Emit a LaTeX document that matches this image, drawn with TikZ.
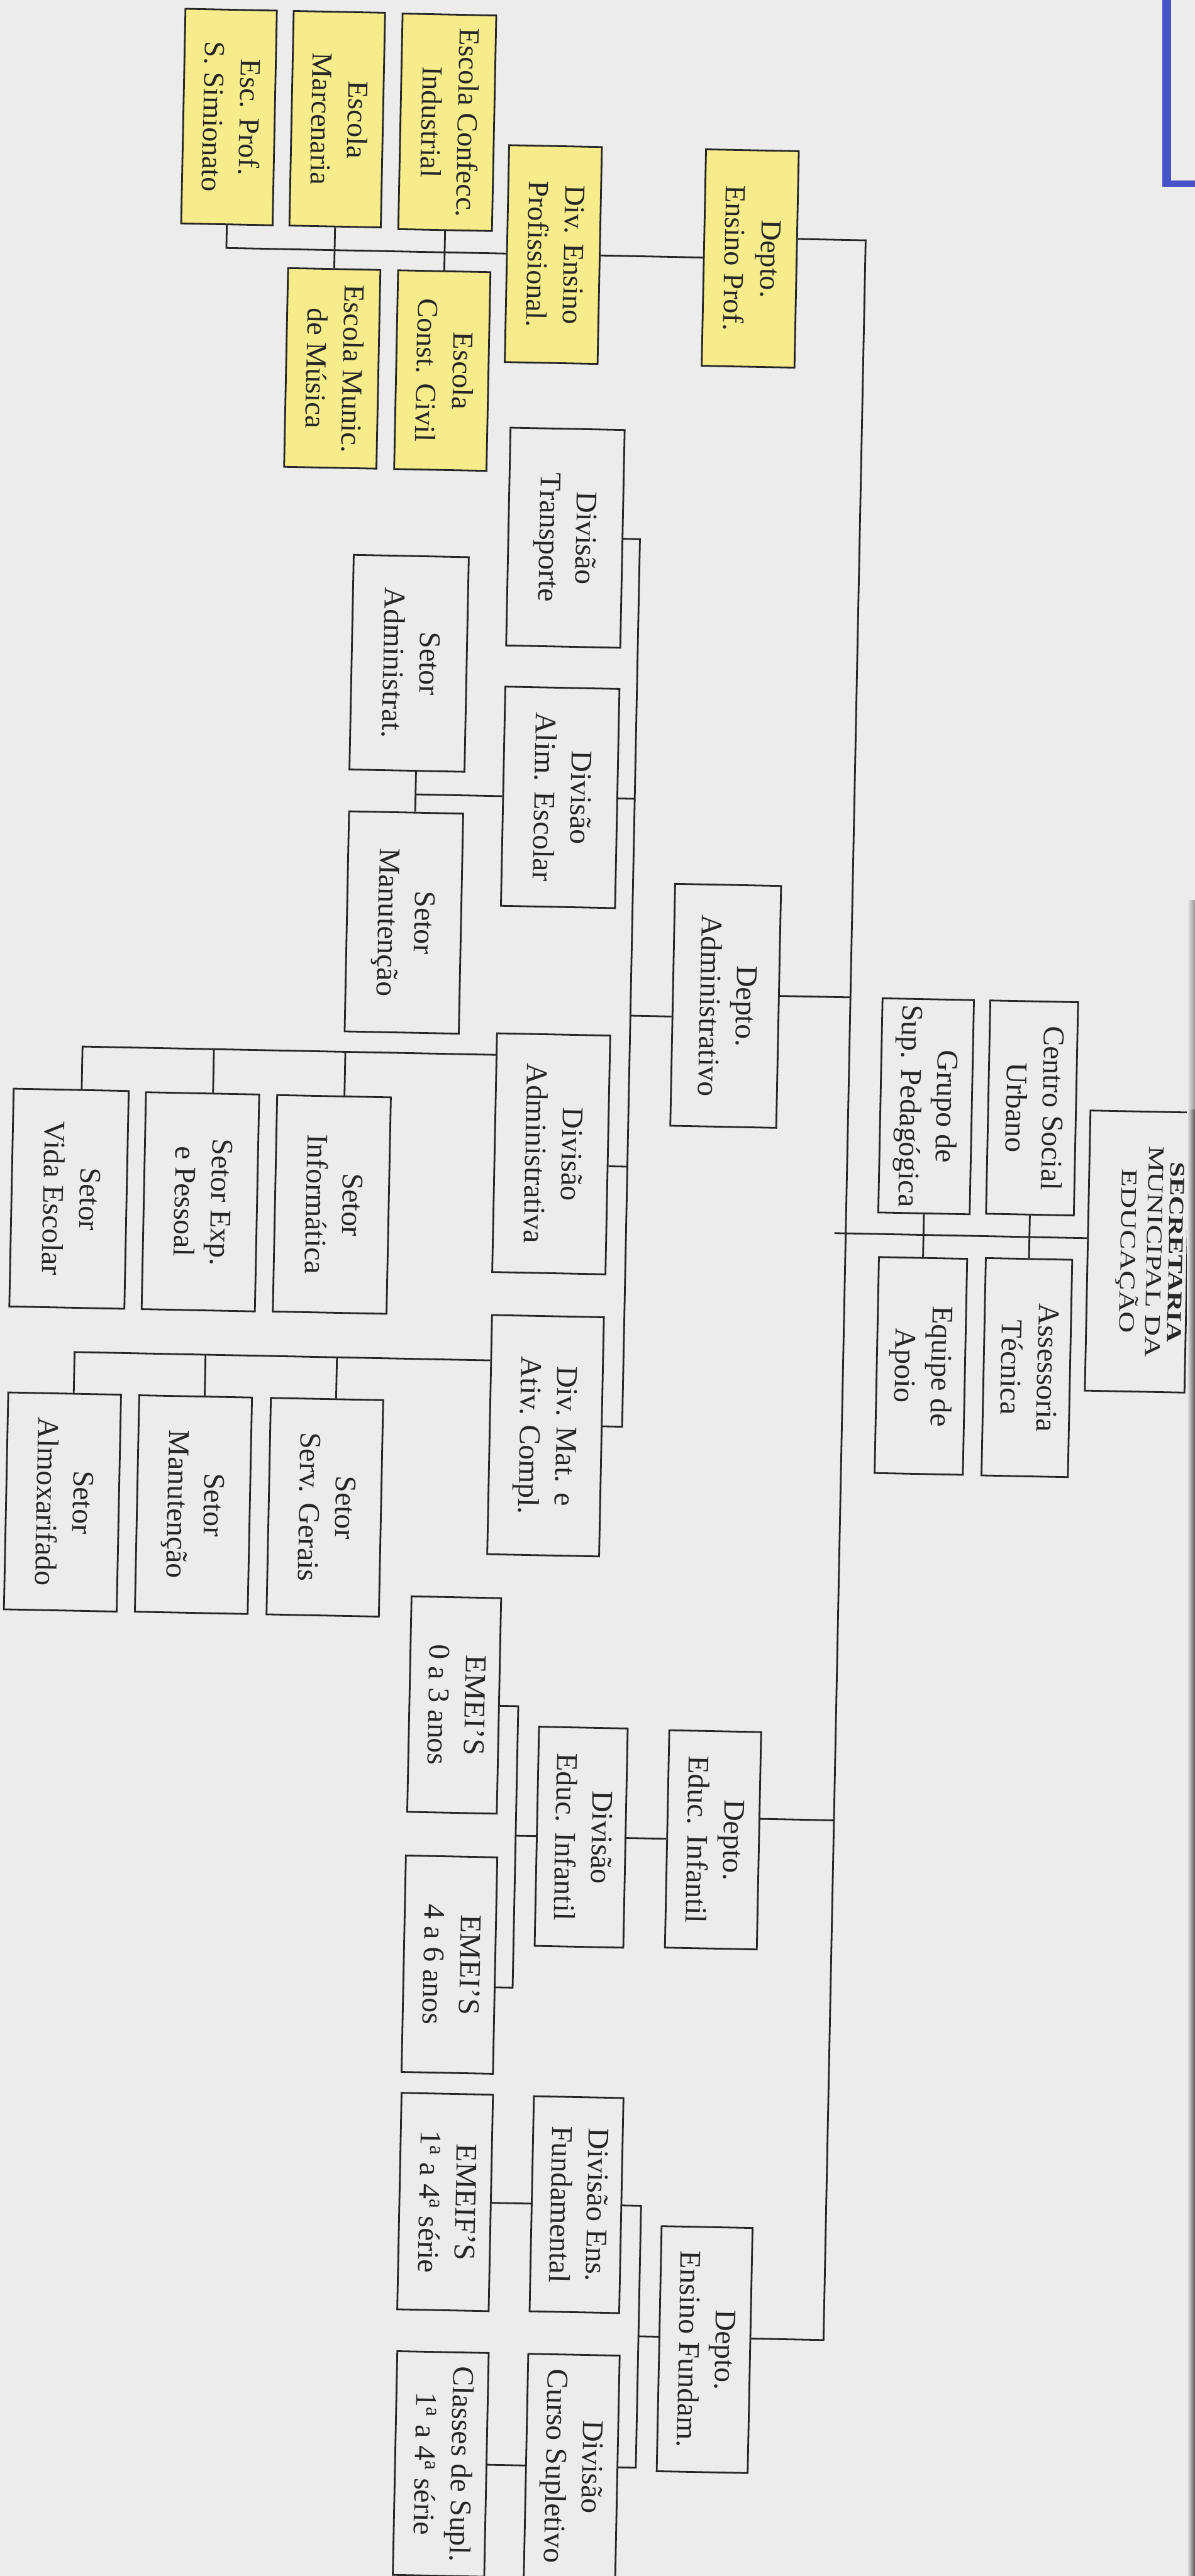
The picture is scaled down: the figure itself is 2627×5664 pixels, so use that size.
\documentclass[tikz,border=0pt]{standalone}
\usepackage{fontspec}
\setmainfont{Liberation Serif}
\usepackage{graphicx}
\definecolor{papel}{RGB}{236,236,236}
\definecolor{tinta}{RGB}{38,38,38}
\definecolor{marca}{RGB}{247,236,140}
\definecolor{caneta}{RGB}{72,82,200}
\newcommand{\vtexto}[1]{\rotatebox{-90}{\begin{tabular}{@{}c@{}}#1\end{tabular}}}
\begin{document}
\begin{tikzpicture}[x=0.1mm,y=-0.1mm,
      caixa/.style={draw=tinta,line width=1.1pt,fill=papel,text=tinta,inner sep=0pt,
        minimum width=20mm,minimum height=47.6mm,font=\fontsize{6.6mm}{8mm}\selectfont},
      amarela/.style={caixa,fill=marca,font=\fontsize{6.4mm}{8mm}\selectfont},
      liga/.style={draw=tinta,line width=1.1pt}]
    \useasboundingbox (0,0) rectangle (2627,5664);
    \fill[papel] (0,0) rectangle (2627,5664);
    \clip (0,0) rectangle (2627,5664);
    % Folha digitalizada levemente inclinada
    \begin{scope}[rotate around={-1.15:(1313,2832)},transform shape]
      % Ensino profissional (marcado em amarelo)
      \node[amarela,minimum width=20.1mm,minimum height=47.2mm] (simionato) at (452,274) {\vtexto{Esc. Prof.\\S. Simionato}};
      \node[amarela,minimum width=20.1mm,minimum height=47.2mm] (marcenaria) at (690,274) {\vtexto{Escola\\Marcenaria}};
      \node[amarela,minimum width=20.6mm,minimum height=47.4mm] (confecc) at (932,276) {\vtexto{Escola Confecc.\\Industrial}};
      \node[amarela,minimum width=20.4mm,minimum height=47.7mm] (divprof) at (1171,562) {\vtexto{Div. Ensino\\Profissional.}};
      \node[amarela,minimum width=20.4mm,minimum height=47.6mm] (deptoprof) at (1604,562) {\vtexto{Depto.\\Ensino Prof.}};
      \node[amarela,minimum width=20.3mm,minimum height=43.7mm] (musica) at (690,822) {\vtexto{Escola Munic.\\de Música}};
      \node[amarela,minimum width=20.3mm,minimum height=43.7mm] (civil) at (932,822) {\vtexto{Escola\\Const. Civil}};
      \coordinate (jSim) at (452,562);
      \draw[liga] (divprof.east) -- (deptoprof.west);
      \draw[liga] (divprof.west) -- (jSim) -- (simionato.south);
      \draw[liga] (marcenaria.south) -- (musica.north);
      \draw[liga] (confecc.south) -- (civil.north);
      % Depto. Administrativo
      \node[caixa,minimum width=25.1mm,minimum height=47.9mm] (transporte) at (1210,1184) {\vtexto{Divisão\\Transporte}};
      \node[caixa,minimum width=25.1mm,minimum height=48.2mm] (alim) at (1210,1755) {\vtexto{Divisão\\Alim. Escolar}};
      \node[caixa,minimum width=25.3mm,minimum height=47.2mm] (setadm) at (872,1467) {\vtexto{Setor\\Administrat.}};
      \node[caixa,minimum width=25.1mm,minimum height=48.4mm] (setman1) at (872,2037) {\vtexto{Setor\\Manutenção}};
      \node[caixa,minimum width=23.3mm,minimum height=53.2mm] (deptoadm) at (1583,2206) {\vtexto{Depto.\\Administrativo}};
      \node[caixa,minimum width=24.9mm,minimum height=52.5mm] (divadm) at (1206,2539) {\vtexto{Divisão\\Administrativa}};
      \node[caixa,minimum width=25.3mm,minimum height=47.9mm] (vida) at (148,2659) {\vtexto{Setor\\Vida Escolar}};
      \node[caixa,minimum width=24.9mm,minimum height=47.7mm] (exp) at (437,2660) {\vtexto{Setor Exp.\\e Pessoal}};
      \node[caixa,minimum width=25.0mm,minimum height=47.6mm] (info) at (726,2660) {\vtexto{Setor\\Informática}};
      \node[caixa,minimum width=24.6mm,minimum height=52.6mm] (mat) at (1206,3159) {\vtexto{Div. Mat. e\\Ativ. Compl.}};
      \node[caixa,minimum width=24.8mm,minimum height=47.7mm] (almox) at (147,3326) {\vtexto{Setor\\Almoxarifado}};
      \node[caixa,minimum width=24.8mm,minimum height=47.6mm] (setman2) at (435,3326) {\vtexto{Setor\\Manutenção}};
      \node[caixa,minimum width=24.7mm,minimum height=47.6mm] (serv) at (724,3326) {\vtexto{Setor\\Serv. Gerais}};
      \coordinate (aTop) at (1374,1184);
      \coordinate (aAlim) at (1374,1755);
      \coordinate (aDep) at (1374,2232);
      \coordinate (aDiv) at (1374,2564);
      \coordinate (aBot) at (1374,3136);
      \coordinate (sAlim) at (892,1755);
      \coordinate (sDiv) at (171,2324);
      \coordinate (sExp) at (460,2324);
      \coordinate (sInf) at (749,2324);
      \coordinate (sMat) at (167,2996);
      \coordinate (sMan) at (455,2996);
      \coordinate (sServ) at (744,2996);
      \draw[liga] (transporte.east) -- (aTop) -- (aBot) -- ([yshift=2.3mm]mat.east);
      \draw[liga] (alim.east) -- (aAlim);
      \draw[liga] ([yshift=-2.5mm]divadm.east) -- (aDiv);
      \draw[liga] ([yshift=-2.6mm]deptoadm.west) -- (aDep);
      \draw[liga] (alim.west) -- (sAlim);
      \draw[liga] ([xshift=2mm]setadm.south) -- ([xshift=2mm]setman1.north);
      \draw[liga] ([yshift=21.5mm]divadm.west) -- (sDiv) -- ([xshift=2.3mm]vida.north);
      \draw[liga] ([xshift=2.3mm]exp.north) -- (sExp);
      \draw[liga] ([xshift=2.3mm]info.north) -- (sInf);
      \draw[liga] ([yshift=16.3mm]mat.west) -- (sMat) -- ([xshift=2mm]almox.north);
      \draw[liga] ([xshift=2mm]setman2.north) -- (sMan);
      \draw[liga] ([xshift=2mm]serv.north) -- (sServ);
      % Educação infantil
      \node[caixa,minimum width=19.7mm,minimum height=47.4mm] (emei03) at (1017,3755) {\vtexto{EMEI'S\\0 a 3 anos}};
      \node[caixa,minimum width=20.1mm,minimum height=47.6mm] (emei46) at (1018,4326) {\vtexto{EMEI'S\\4 a 6 anos}};
      \node[caixa,minimum width=19.5mm,minimum height=48.2mm] (diveduc) at (1302,4040) {\vtexto{Divisão\\Educ. Infantil}};
      \node[caixa,minimum width=20.2mm,minimum height=47.8mm] (deptoeduc) at (1592,4040) {\vtexto{Depto.\\Educ. Infantil}};
      \coordinate (iTop) at (1158,3755);
      \coordinate (iDiv) at (1158,4040);
      \coordinate (iBot) at (1158,4374);
      \draw[liga] (emei03.east) -- (iTop) -- (iBot) -- ([yshift=-4.8mm]emei46.east);
      \draw[liga] (diveduc.west) -- (iDiv);
      \draw[liga] (diveduc.east) -- (deptoeduc.west);
      % Ensino fundamental
      \node[caixa,minimum width=20.1mm,minimum height=47.6mm] (emeif) at (1019,4848) {\vtexto{EMEIF'S\\1\textsuperscript{a} a 4\textsuperscript{a} série}};
      \node[caixa,minimum width=19.7mm,minimum height=47.3mm] (divfund) at (1308,4848) {\vtexto{Divisão Ens.\\Fundamental}};
      \node[caixa,minimum width=20.0mm,minimum height=53.9mm] (deptofund) at (1596,5161) {\vtexto{Depto.\\Ensino Fundam.}};
      \node[caixa,minimum width=20.1mm,minimum height=49.2mm] (divsupl) at (1309,5424) {\vtexto{Divisão\\Curso Supletivo}};
      \node[caixa,minimum width=20.1mm,minimum height=49.2mm] (classes) at (1021,5424) {\vtexto{Classes de Supl.\\1\textsuperscript{a} a 4\textsuperscript{a} série}};
      \coordinate (fTop) at (1450,4848);
      \coordinate (fDep) at (1450,5135);
      \coordinate (fBot) at (1450,5424);
      \draw[liga] (emeif.east) -- (divfund.west);
      \draw[liga] (divfund.east) -- (fTop) -- (fBot) -- (divsupl.east);
      \draw[liga] ([yshift=2.6mm]deptofund.west) -- (fDep);
      \draw[liga] (classes.east) -- (divsupl.west);
      % Secretaria e assessorias
      \node[caixa,minimum width=21.9mm,minimum height=61.6mm] (secretaria) at (2499,2728) {};
      \node[text=tinta,inner sep=0pt,font=\fontsize{6.5mm}{7.7mm}\selectfont] (secretariatxt) at ([xshift=2.8mm]secretaria.center)
        {\rotatebox{-90}{\scalebox{1}[0.75]{\begin{tabular}{@{}c@{}}{\bfseries\fontsize{6.1mm}{7.7mm}\selectfont SECRETARIA}\\[-1.3mm] MUNICIPAL DA\\ EDUCAÇÃO\end{tabular}}}};
      \node[caixa,minimum width=19.3mm,minimum height=46.9mm] (centro) at (2261,2417) {\vtexto{Centro Social\\Urbano}};
      \node[caixa,minimum width=20.1mm,minimum height=47.1mm] (grupo) at (2028,2418) {\vtexto{Grupo de\\Sup. Pedagógica}};
      \node[caixa,minimum width=19.0mm,minimum height=47.8mm] (assessoria) at (2261,2988) {\vtexto{Assessoria\\Técnica}};
      \node[caixa,minimum width=19.4mm,minimum height=47.5mm] (equipe) at (2028,2989) {\vtexto{Equipe de\\Apoio}};
      \draw[liga] (centro.south) -- (assessoria.north);
      \draw[liga] (grupo.south) -- (equipe.north);
      % Tronco principal
      \coordinate (tA) at (1857,517);
      \coordinate (tAdm) at (1857,2182);
      \coordinate (tInf) at (1857,3992);
      \coordinate (tB) at (1857,5135);
      \coordinate (fimsec) at (1832,2701);
      \draw[liga] ([yshift=4.5mm]deptoprof.east) -- (tA) -- (tB) -- ([yshift=2.6mm]deptofund.east);
      \draw[liga] ([yshift=2.4mm]deptoadm.east) -- (tAdm);
      \draw[liga] ([yshift=4.8mm]deptoeduc.east) -- (tInf);
      \draw[liga] ([yshift=2.7mm]secretaria.west) -- (fimsec);
    \end{scope}
    % Marcas da digitalização
    \shade[top color=papel,bottom color=black!40,right color=black!40,left color=papel] (2610,1980) rectangle (2627,2440);
    \shade[left color=papel,right color=black!65] (2610,2440) rectangle (2627,5664);
    \draw[caneta,line width=2mm] (2565,0) -- (2565,404);
    \draw[caneta,line width=1.4mm] (2555,404) -- (2627,404);
  \end{tikzpicture}
\end{document}
